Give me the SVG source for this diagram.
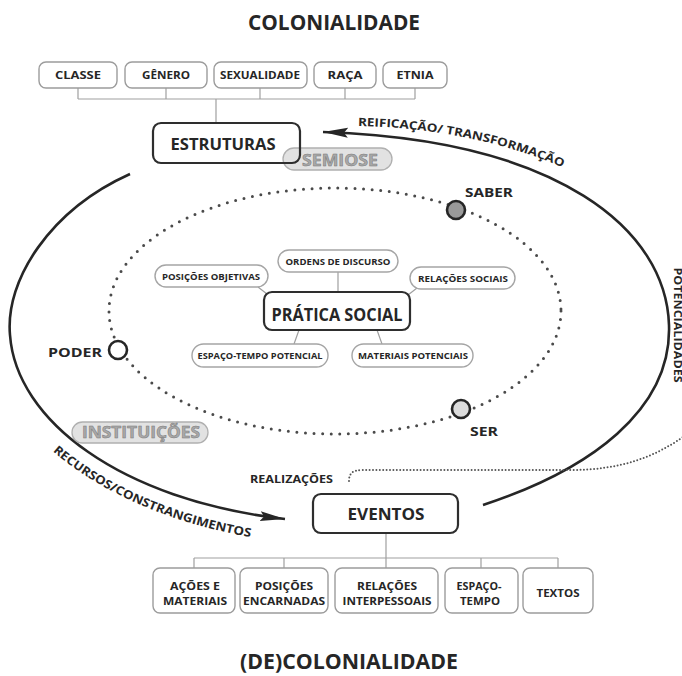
<svg xmlns="http://www.w3.org/2000/svg" width="682" height="676" viewBox="0 0 682 676">
<defs>
<style>
.t{font-family:"Open Sans","Liberation Sans",sans-serif;font-weight:700;fill:#262626}
.m{text-anchor:middle}
.box{fill:#fff;stroke:#9c9c9c;stroke-width:1.4}
.main{fill:#fff;stroke:#2e2e2e;stroke-width:2.2}
.pill{fill:#fff;stroke:#a5a5a5;stroke-width:1.4}
.gp{fill:#e2e2e2;stroke:#b0b0b0;stroke-width:1.3}
.gt{fill:#a9a9a9;stroke:#7a7a7a;stroke-width:0.5}
.ln{stroke:#a0a0a0;stroke-width:1.2;fill:none}
.arc{fill:none;stroke:#262626;stroke-width:2.6}
.dot{fill:none;stroke:#4a4a4a;stroke-width:3;stroke-dasharray:0 8.6;stroke-linecap:round}
.fine{fill:none;stroke:#555;stroke-width:2;stroke-dasharray:0 3.4;stroke-linecap:round}
.node{stroke:#262626;stroke-width:2.6}
</style>
<marker id="arr" markerUnits="userSpaceOnUse" markerWidth="28" markerHeight="12" refX="25" refY="5" orient="auto">
<path d="M0,0 L25,5 L0,10 L4,5 z" fill="#262626"/>
</marker>
<path id="pTop" d="M358,126 C430,127 515,142 585,178"/>
<path id="pLeft" d="M-13,337 C-4,432 108,520 282,542"/>
</defs>

<text class="t m" x="334" y="30" font-size="21" textLength="172" lengthAdjust="spacingAndGlyphs">COLONIALIDADE</text>
<text class="t m" x="349" y="669" font-size="21" textLength="218" lengthAdjust="spacingAndGlyphs">(DE)COLONIALIDADE</text>

<g id="connectors">
<path class="ln" d="M78,88V99 M166,88V99 M260,88V99 M345,88V99 M415,88V99 M78,99H415 M216,99V123"/>
<path class="ln" d="M386,533V558 M194,558H558 M194,558V568 M284,558V568 M386,558V568 M481,558V568 M558,558V568"/>
<path class="ln" d="M338,272V292 M258,287L267,294 M417,288L408,295 M299,330L294,344 M377,330L382,344"/>
<ellipse class="dot" cx="335" cy="311" rx="226" ry="123"/>
<path class="arc" d="M483,505 C590,470 672,410 669,325 C666,230 560,140 323,132" marker-end="url(#arr)"/>
<path class="arc" d="M130,174 C50,210 5,280 10,335 C16,420 120,500 285,519" marker-end="url(#arr)"/>
<path class="fine" d="M349,481 C349,474 352,470 362,470 L570,470 C620,470 655,458 690,432"/>
<text class="t" font-size="11.5"><textPath href="#pTop" startOffset="0" textLength="210" lengthAdjust="spacingAndGlyphs">REIFICAÇÃO/ TRANSFORMAÇÃO</textPath></text>
<text class="t" font-size="12"><textPath href="#pLeft" startOffset="135" textLength="218" lengthAdjust="spacingAndGlyphs">RECURSOS/CONSTRANGIMENTOS</textPath></text>
<text class="t m" transform="translate(674,325) rotate(90)" font-size="10" textLength="115" lengthAdjust="spacingAndGlyphs">POTENCIALIDADES</text>
<text class="t" x="250" y="483" font-size="10.5" textLength="83" lengthAdjust="spacingAndGlyphs">REALIZAÇÕES</text>
</g>

<g id="classe"><rect class="box" x="39" y="62" width="78" height="26" rx="7"/><text class="t m" x="78" y="79" font-size="10.5" textLength="46" lengthAdjust="spacingAndGlyphs">CLASSE</text></g>
<g id="genero"><rect class="box" x="125" y="62" width="82" height="26" rx="7"/><text class="t m" x="166" y="79" font-size="10.5" textLength="48" lengthAdjust="spacingAndGlyphs">GÊNERO</text></g>
<g id="sexualidade"><rect class="box" x="214" y="62" width="93" height="26" rx="7"/><text class="t m" x="260" y="79" font-size="10.5" textLength="80" lengthAdjust="spacingAndGlyphs">SEXUALIDADE</text></g>
<g id="raca"><rect class="box" x="314" y="62" width="62" height="26" rx="7"/><text class="t m" x="345" y="79" font-size="10.5" textLength="35" lengthAdjust="spacingAndGlyphs">RAÇA</text></g>
<g id="etnia"><rect class="box" x="383" y="62" width="64" height="26" rx="7"/><text class="t m" x="415" y="79" font-size="10.5" textLength="37" lengthAdjust="spacingAndGlyphs">ETNIA</text></g>

<g id="semiose"><rect class="gp" x="283" y="148" width="109" height="22" rx="11"/><text class="t m gt" x="340" y="166" font-size="16" textLength="76" lengthAdjust="spacingAndGlyphs">SEMIOSE</text></g>
<g id="estruturas"><rect class="main" x="153" y="123" width="147" height="40" rx="8" style="fill:none"/><text class="t m" x="223" y="150" font-size="16" textLength="105" lengthAdjust="spacingAndGlyphs">ESTRUTURAS</text></g>

<g id="ordens"><rect class="pill" x="278" y="250" width="120" height="22" rx="11"/><text class="t m" x="338" y="265" font-size="9" textLength="105" lengthAdjust="spacingAndGlyphs">ORDENS DE DISCURSO</text></g>
<g id="posicoes-obj"><rect class="pill" x="155" y="265" width="113" height="22" rx="11"/><text class="t m" x="211" y="280" font-size="9" textLength="98" lengthAdjust="spacingAndGlyphs">POSIÇÕES OBJETIVAS</text></g>
<g id="relacoes-soc"><rect class="pill" x="410" y="267" width="105" height="22" rx="11"/><text class="t m" x="463" y="282" font-size="9" textLength="90" lengthAdjust="spacingAndGlyphs">RELAÇÕES SOCIAIS</text></g>
<g id="espaco-pot"><rect class="pill" x="192" y="344" width="136" height="23" rx="11.5"/><text class="t m" x="260" y="359" font-size="9" textLength="125" lengthAdjust="spacingAndGlyphs">ESPAÇO-TEMPO POTENCIAL</text></g>
<g id="materiais-pot"><rect class="pill" x="352" y="344" width="121" height="23" rx="11.5"/><text class="t m" x="413" y="359" font-size="9" textLength="110" lengthAdjust="spacingAndGlyphs">MATERIAIS POTENCIAIS</text></g>
<g id="pratica"><rect class="main" x="264" y="292" width="146" height="38" rx="8"/><text class="t m" x="337" y="321" font-size="17" textLength="131" lengthAdjust="spacingAndGlyphs">PRÁTICA SOCIAL</text></g>

<g id="saber"><circle class="node" cx="456" cy="210" r="9" fill="#9a9a9a"/><text class="t" x="465" y="197" font-size="12.5" textLength="48" lengthAdjust="spacingAndGlyphs">SABER</text></g>
<g id="poder"><circle class="node" cx="118" cy="350" r="9" fill="#fff"/><text class="t" x="48" y="357" font-size="12.5" textLength="54" lengthAdjust="spacingAndGlyphs">PODER</text></g>
<g id="ser"><circle class="node" cx="461" cy="409" r="9" fill="#dcdcdc"/><text class="t" x="470" y="436" font-size="12.5" textLength="28" lengthAdjust="spacingAndGlyphs">SER</text></g>

<g id="instituicoes"><rect class="gp" x="72" y="422" width="136" height="21" rx="10.5"/><text class="t m gt" x="141" y="438" font-size="16" textLength="118" lengthAdjust="spacingAndGlyphs">INSTITUIÇÕES</text></g>

<g id="eventos"><rect class="main" x="313" y="494" width="145" height="39" rx="8"/><text class="t m" x="386" y="520" font-size="16.5" textLength="77" lengthAdjust="spacingAndGlyphs">EVENTOS</text></g>

<g id="acoes"><rect class="box" x="153" y="568" width="82" height="45" rx="7"/><text class="t m" x="195" y="590" font-size="11" textLength="50" lengthAdjust="spacingAndGlyphs">AÇÕES E</text><text class="t m" x="195" y="605" font-size="11" textLength="64" lengthAdjust="spacingAndGlyphs">MATERIAIS</text></g>
<g id="posicoes-enc"><rect class="box" x="240" y="568" width="88" height="45" rx="7"/><text class="t m" x="284" y="590" font-size="11" textLength="58" lengthAdjust="spacingAndGlyphs">POSIÇÕES</text><text class="t m" x="284" y="605" font-size="11" textLength="82" lengthAdjust="spacingAndGlyphs">ENCARNADAS</text></g>
<g id="relacoes-int"><rect class="box" x="335" y="568" width="103" height="45" rx="7"/><text class="t m" x="387" y="590" font-size="11" textLength="60" lengthAdjust="spacingAndGlyphs">RELAÇÕES</text><text class="t m" x="387" y="605" font-size="11" textLength="89" lengthAdjust="spacingAndGlyphs">INTERPESSOAIS</text></g>
<g id="espaco-tempo"><rect class="box" x="445" y="568" width="73" height="45" rx="7"/><text class="t m" x="479" y="590" font-size="11" textLength="45" lengthAdjust="spacingAndGlyphs">ESPAÇO-</text><text class="t m" x="480" y="605" font-size="11" textLength="40" lengthAdjust="spacingAndGlyphs">TEMPO</text></g>
<g id="textos"><rect class="box" x="523" y="568" width="70" height="45" rx="7"/><text class="t m" x="558" y="597" font-size="11" textLength="43" lengthAdjust="spacingAndGlyphs">TEXTOS</text></g>
</svg>
